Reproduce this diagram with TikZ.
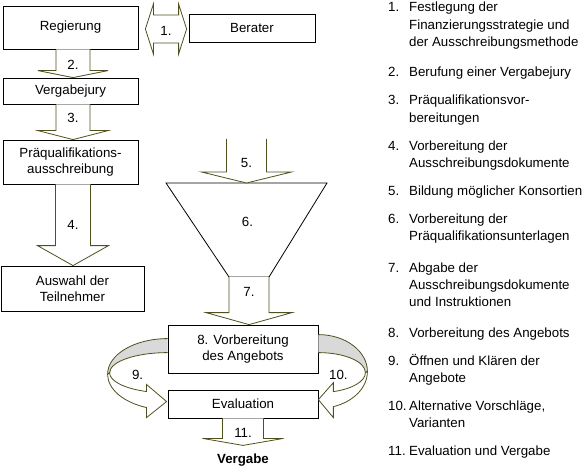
\documentclass[tikz,border=0pt]{standalone}
\usepackage{fontspec}
\setmainfont{Liberation Sans}
\usetikzlibrary{positioning,calc}

\definecolor{arrowline}{RGB}{80,80,30}
\definecolor{bandgrey}{RGB}{217,217,217}

\tikzset{
  box/.style={draw=black,line width=0.8pt,fill=white,align=center,inner sep=2pt},
  blockarrow/.style={draw=arrowline,line width=0.8pt,fill=white,line join=miter},
  bandback/.style={draw=arrowline,line width=0.8pt,fill=bandgrey},
  steplabel/.style={inner sep=0pt},
  listnum/.style={anchor=base west,inner sep=0pt},
  listtxt/.style={anchor=base west,inner sep=0pt,font=\fontsize{13.3}{17.3}\selectfont}
}

% #1 top, #2 tip, #3 half shaft, #4 half head, #5 head length, #6 label, #7 label pos
\newcommand{\blockdown}[7]{%
  \filldraw[blockarrow] ($(#1)+(-#3,0)$) -- ($(#2)+(-#3,#5)$) -- ($(#2)+(-#4,#5)$) -- (#2)
    -- ($(#2)+(#4,#5)$) -- ($(#2)+(#3,#5)$) -- ($(#1)+(#3,0)$);
  \node[steplabel] at ($(#1)!#7!(#2)$) {#6};}

\newcommand{\listentry}[4]{%
  \node[listnum] (num#1) at (388,-#2) {#3.};
  \node[listtxt] (txt#1) at (409,-#2) {\begin{tabular}[t]{@{}l@{}}#4\end{tabular}};}

\begin{document}
\begin{tikzpicture}[x=1pt,y=1pt,font=\fontsize{13.3}{15.5}\selectfont]
  \useasboundingbox (0,0) rectangle (586,-468);
  \coordinate (axl) at (73,0);

  \node[box,minimum width=135pt,minimum height=43pt] (reg) at (70.5,-27.5) {Regierung};
  \node[box,minimum width=126pt,minimum height=28pt] (ber) at (252,-28) {Berater};
  \node[box,minimum width=135pt,minimum height=26pt] (jury) at (70.5,-91) {Vergabejury};
  \node[box,minimum width=135pt,minimum height=44pt] (prae) at (70.5,-162) {Präqualifikations-\\ausschreibung};
  \node[box,minimum width=143pt,minimum height=45pt] (ausw) at (72.5,-288.5) {Auswahl der\\Teilnehmer};
  \node[box,minimum width=150pt,minimum height=48pt] (angebot) at (243,-349) {8. Vorbereitung\\des Angebots};
  \node[box,minimum width=150pt,minimum height=28pt] (eval) at (243,-404) {Evaluation};

  % double arrow 1.
  \coordinate (tip1l) at ($(reg.east)+(7,-1.5)$);
  \coordinate (tip1r) at ($(ber.west)+(-2,-1)$);
  \filldraw[blockarrow] (tip1l) -- ++(8,25) -- ++(0,-11) -- ($(tip1r)+(-8,14)$) -- ++(0,11) -- (tip1r)
    -- ++(-8,-25) -- ++(0,11) -- ($(tip1l)+(8,-14)$) -- ++(0,-11) -- cycle;
  \node[steplabel] at ($(tip1l)!0.5!(tip1r)+(0,-2)$) {1.};

  \blockdown{reg.south -| axl}{jury.north -| axl}{17}{35}{7}{2.}{0.55}
  \blockdown{jury.south -| axl}{prae.north -| axl}{17}{35}{9}{3.}{0.39}
  \blockdown{prae.south -| axl}{ausw.north -| axl}{17.5}{35.5}{20}{4.}{0.5}

  % funnel
  \coordinate (funtl) at (166,-183); \coordinate (funtr) at (327,-183);
  \coordinate (funbr) at (269,-277); \coordinate (funbl) at (229,-277);
  \coordinate (funtop) at ($(funtl)!0.5!(funtr)$);
  \coordinate (funbot) at ($(funbl)!0.5!(funbr)$);
  \filldraw[draw=black,line width=0.8pt,fill=white] (funtl) -- (funtr) -- (funbr) -- (funbl) -- cycle;
  \node[steplabel] (lab6) at ($(funtop)!0.41!(funbot)$) {6.};
  \coordinate (top5) at ($(funtop)+(0,44)$);
  \blockdown{top5}{funtop}{20}{45}{11}{5.}{0.55}
  \blockdown{funbot}{angebot.north -| funbot}{20}{43}{12}{7.}{0.31}

  % curved arrow 9.
  \coordinate (c9o) at ($(angebot.north west)+(0,-14)$);
  \coordinate (c9i) at ($(angebot.north west)+(0,-28)$);
  \path (c9o) arc[start angle=90,end angle=180,x radius=60,y radius=35.6] coordinate (c9ol);
  \path (c9i) arc[start angle=90,end angle=180,x radius=58,y radius=20.2] coordinate (c9il);
  \filldraw[bandback] (c9o) arc[start angle=90,end angle=180,x radius=60,y radius=35.6]
    -- (c9il) arc[start angle=180,end angle=90,x radius=58,y radius=20.2];
  \filldraw[blockarrow] (c9ol) arc[start angle=180,end angle=249.5,x radius=60,y radius=35.6]
    -- ++(0,-10) -- ++(20,16) -- ++(-20,17) -- ++(0,-7)
    arc[start angle=248.8,end angle=180,x radius=58,y radius=20.2] -- cycle;
  \node[steplabel] at ($(angebot.south west)+(-30,-2)$) {9.};

  % curved arrow 10.
  \coordinate (c10o) at ($(angebot.north east)+(0,-10)$);
  \coordinate (c10i) at ($(angebot.north east)+(0,-28)$);
  \path (c10o) arc[start angle=90,end angle=0,x radius=49,y radius=36.9] coordinate (c10ol);
  \path (c10i) arc[start angle=90,end angle=0,x radius=47,y radius=20] coordinate (c10il);
  \filldraw[bandback] (c10o) arc[start angle=90,end angle=0,x radius=49,y radius=36.9]
    -- (c10il) arc[start angle=0,end angle=90,x radius=47,y radius=20];
  \filldraw[blockarrow] (c10ol) arc[start angle=0,end angle=-72.2,x radius=49,y radius=36.9]
    -- ++(0,-11) -- ++(-15,18) -- ++(15,17) -- ++(0,-9)
    arc[start angle=-71.4,end angle=0,x radius=47,y radius=20] -- cycle;
  \node[steplabel] at ($(angebot.south east)+(20,-2)$) {10.};

  \coordinate (tip11) at ($(eval.south)+(0,-27)$);
  \blockdown{eval.south}{tip11}{20.5}{40.5}{7}{11.}{0.52}
  \node (vergabe) at ($(tip11)+(0,-15)$) {\bfseries Vergabe};

  % list on the right
  \listentry{a}{12}{1}{Festlegung der\\Finanzierungsstrategie und\\der Ausschreibungsmethode}
  \listentry{b}{77}{2}{Berufung einer Vergabejury}
  \listentry{c}{105}{3}{Präqualifikationsvor-\\bereitungen}
  \listentry{d}{150}{4}{Vorbereitung der\\Ausschreibungsdokumente}
  \listentry{e}{195}{5}{Bildung möglicher Konsortien}
  \listentry{f}{223}{6}{Vorbereitung der\\Präqualifikationsunterlagen}
  \listentry{g}{272}{7}{Abgabe der\\Ausschreibungsdokumente\\und Instruktionen}
  \listentry{h}{337}{8}{Vorbereitung des Angebots}
  \listentry{i}{365}{9}{Öffnen und Klären der\\Angebote}
  \listentry{j}{410}{10}{Alternative Vorschläge,\\Varianten}
  \listentry{k}{455}{11}{Evaluation und Vergabe}
\end{tikzpicture}
\end{document}
